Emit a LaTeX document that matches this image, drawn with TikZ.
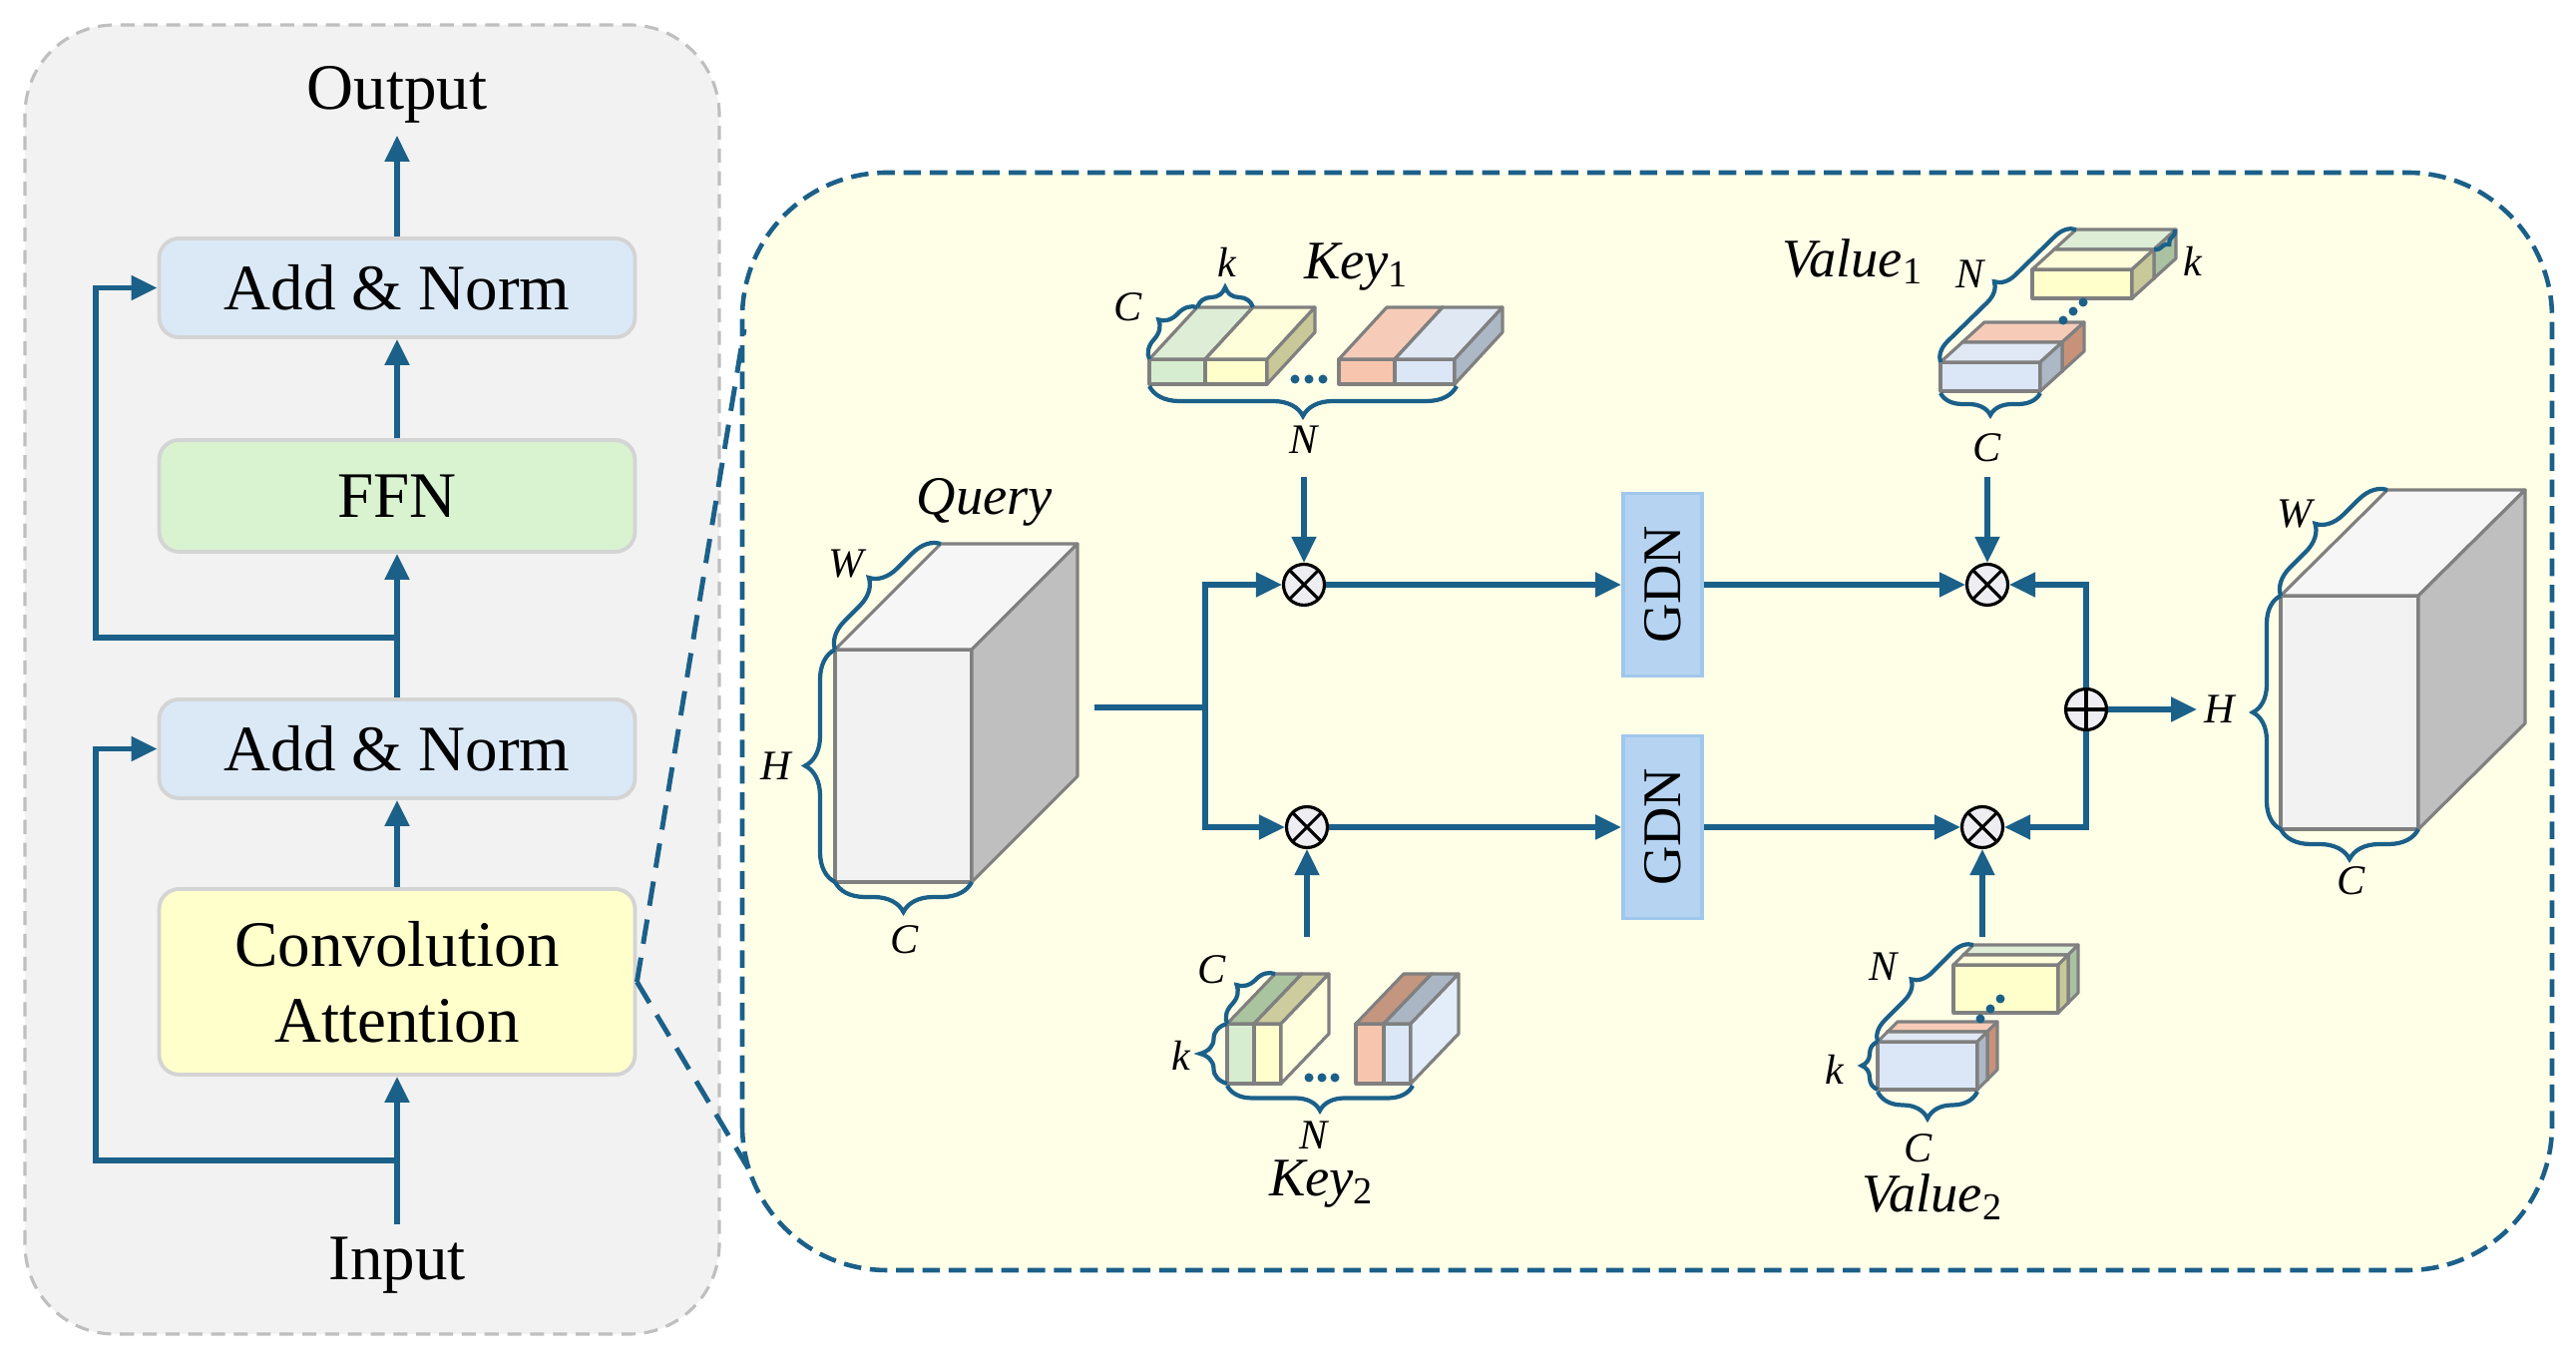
\documentclass[tikz,border=0pt]{standalone}
\usepackage{fontspec}
\setmainfont{Liberation Serif}
\usepackage{xcolor}
\usepackage{tikz}
\usetikzlibrary{arrows.meta,shapes,positioning,decorations.pathreplacing}

\definecolor{flowblue}{RGB}{27,96,137}
\definecolor{panelgray}{RGB}{242,242,242}
\definecolor{panelline}{RGB}{191,191,191}
\definecolor{boxline}{RGB}{212,212,212}
\definecolor{normblue}{RGB}{219,233,247}
\definecolor{ffngreen}{RGB}{217,242,208}
\definecolor{convyellow}{RGB}{255,255,204}
\definecolor{cream}{RGB}{255,255,232}
\definecolor{gdnfill}{RGB}{182,212,241}
\definecolor{gdnline}{RGB}{160,199,236}
\definecolor{edgegray}{RGB}{128,128,128}
\definecolor{opfill}{RGB}{238,238,242}
\definecolor{cubefront}{RGB}{242,242,242}
\definecolor{cubetop}{RGB}{246,246,246}
\definecolor{cubeside}{RGB}{191,191,191}
\definecolor{slgreen}{RGB}{215,237,207}
\definecolor{slgreentop}{RGB}{221,237,214}
\definecolor{slyellowtop}{RGB}{254,254,218}
\definecolor{slyellowside}{RGB}{200,200,152}
\definecolor{slorange}{RGB}{247,197,173}
\definecolor{slorangetop}{RGB}{246,204,184}
\definecolor{slorangeside}{RGB}{200,146,122}
\definecolor{slblue}{RGB}{219,231,246}
\definecolor{slbluetop}{RGB}{224,232,244}
\definecolor{slblueside}{RGB}{172,184,198}
\definecolor{slgreenside}{RGB}{170,194,162}
\definecolor{darkgreentop}{RGB}{170,196,160}
\definecolor{darkyellowtop}{RGB}{204,204,158}
\definecolor{darkorangetop}{RGB}{196,150,128}
\definecolor{darkbluetop}{RGB}{170,182,196}
\definecolor{lightyellowside}{RGB}{255,255,222}
\definecolor{lightblueside}{RGB}{227,236,249}

% front face at (#1,#2), size #3 x #4, depth (#5,#6), colours front/top/side
\newcommand{\tensorbox}[9]{%
  \filldraw[fill=#7, cubeedge] (#1,#2) rectangle ++(#3,#4);
  \filldraw[fill=#8, cubeedge] (#1,#2+#4) -- ++(#5,#6) -- ++(#3,0) -- ++(-#5,-#6) -- cycle;
  \filldraw[fill=#9, cubeedge] (#1+#3,#2) -- ++(#5,#6) -- ++(0,#4) -- ++(-#5,-#6) -- cycle;}

\begin{document}
\begin{tikzpicture}[node distance=2cm,
  flow/.style={draw=flowblue, line width=1.45pt, -{Triangle[length=0.26cm,width=0.24cm]}},
  plainline/.style={draw=flowblue, line width=1.45pt},
  zoomline/.style={draw=flowblue, line width=1.4pt, dash pattern=on 7pt off 4pt},
  normbox/.style={draw=boxline, line width=1.1pt, rounded corners=0.2cm, fill=normblue, minimum width=4.77cm, minimum height=0.99cm, font=\fontsize{18.5}{21.5}\selectfont},
  ffnbox/.style={normbox, fill=ffngreen, minimum height=1.12cm},
  convbox/.style={normbox, fill=convyellow, minimum height=1.86cm, align=center},
  titletext/.style={font=\fontsize{18.5}{21.5}\selectfont},
  gdn/.style={draw=gdnline, fill=gdnfill, line width=1.1pt, rotate=90, minimum width=1.83cm, minimum height=0.79cm, font=\fontsize{15.5}{18}\selectfont},
  opnode/.style={circle, draw=black, fill=opfill, line width=0.9pt, minimum size=0.41cm, inner sep=0pt},
  otimes/.style={opnode, path picture={\draw[line width=0.9pt] (path picture bounding box.north west) -- (path picture bounding box.south east) (path picture bounding box.north east) -- (path picture bounding box.south west);}},
  oplus/.style={opnode, path picture={\draw[line width=0.9pt] (path picture bounding box.north) -- (path picture bounding box.south) (path picture bounding box.east) -- (path picture bounding box.west);}},
  cubeedge/.style={draw=edgegray, line width=0.9pt, line join=round},
  dimbrace/.style={decorate, decoration={brace, amplitude=#1}, draw=flowblue, line width=1.2pt},
  dimbrace/.default=0.25cm,
  dimlab/.style={font=\fontsize{12}{14}\selectfont\itshape, inner sep=2pt},
  namelab/.style={font=\fontsize{15.5}{18}\selectfont\itshape, inner sep=2pt}]
\useasboundingbox (0,0) rectangle (25.82,13.71);

% panels
\draw[panelline, fill=panelgray, line width=0.9pt, dash pattern=on 4pt off 2.5pt, rounded corners=0.9cm] (0.25,0.34) rectangle (7.21,13.46);
\draw[flowblue, fill=cream, line width=1.3pt, dash pattern=on 5pt off 2.5pt, rounded corners=1.45cm] (7.44,0.98) rectangle (25.58,11.98);

% encoder block
\node[normbox] (an1) at (3.98,10.825) {Add \& Norm};
\node[titletext, above of=an1, node distance=1.935cm] (output) {Output};
\node[ffnbox, below of=an1, node distance=2.085cm] (ffn) {FFN};
\node[normbox, below of=ffn, node distance=2.535cm] (an2) {Add \& Norm};
\node[convbox, below of=an2, node distance=2.335cm] (conv) {Convolution\\Attention};
\node[titletext, below of=conv, node distance=2.84cm] (input) {Input};
\coordinate (b1) at (3.98,2.08);
\coordinate (b2) at (3.98,7.32);

\draw[flow] (input) -- (conv);
\draw[flow] (b1) -- ++(-3.02,0) |- (an2);
\draw[flow] (conv) -- (an2);
\draw[flow] (an2) -- (ffn);
\draw[flow] (b2) -- ++(-3.02,0) |- (an1);
\draw[flow] (ffn) -- (an1);
\draw[flow] (an1) -- (output);

\coordinate (zt) at (7.46,10.41);
\coordinate (zb) at (7.56,1.90);
\draw[zoomline] (conv.east) -- (zt);
\draw[zoomline] (conv.east) -- (zb);

% query and output cubes
\tensorbox{8.37}{4.87}{1.37}{2.33}{1.06}{1.06}{cubefront}{cubetop}{cubeside}
\draw[dimbrace=0.3cm] (8.37,4.87) -- (8.37,7.20);
\draw[dimbrace=0.3cm] (9.74,4.87) -- (8.37,4.87);
\draw[dimbrace=0.27cm] (8.37,7.20) -- (9.43,8.26);
\node[namelab] (qname) at (9.87,8.68) {Query};
\node[dimlab] (qw) at (8.48,8.06) {W};
\node[dimlab] (qh) at (7.78,6.03) {H};
\node[dimlab] (qc) at (9.07,4.29) {C};

\tensorbox{22.86}{5.40}{1.38}{2.34}{1.07}{1.06}{cubefront}{cubetop}{cubeside}
\draw[dimbrace=0.28cm] (22.86,5.40) -- (22.86,7.74);
\draw[dimbrace=0.3cm] (24.24,5.40) -- (22.86,5.40);
\draw[dimbrace=0.27cm] (22.86,7.74) -- (23.93,8.80);
\node[dimlab] (oh) at (22.25,6.60) {H};
\node[dimlab] (ow) at (23.00,8.56) {W};
\node[dimlab] (oc) at (23.57,4.88) {C};

% key 1
\tensorbox{11.52}{9.86}{0.56}{0.25}{0.48}{0.52}{slgreen}{slgreentop}{slyellowside}
\tensorbox{12.08}{9.86}{0.62}{0.25}{0.48}{0.52}{convyellow}{slyellowtop}{slyellowside}
\tensorbox{13.42}{9.86}{0.56}{0.25}{0.48}{0.52}{slorange}{slorangetop}{slblueside}
\tensorbox{13.98}{9.86}{0.60}{0.25}{0.48}{0.52}{slblue}{slbluetop}{slblueside}
\fill[flowblue] (12.98,9.91) circle (0.045) (13.12,9.91) circle (0.045) (13.26,9.91) circle (0.045);
\draw[dimbrace=0.3cm] (14.60,9.84) -- (11.52,9.84);
\draw[dimbrace=0.2cm] (12.00,10.63) -- (12.56,10.63);
\draw[dimbrace=0.2cm] (11.52,10.11) -- (12.00,10.63);
\node[namelab] (k1name) at (13.60,11.03) {Key\textsubscript{\upshape 1}};
\node[dimlab] (k1k) at (12.30,11.08) {k};
\node[dimlab] (k1c) at (11.31,10.63) {C};
\node[dimlab] (k1n) at (13.07,9.30) {N};

% key 2
\tensorbox{12.30}{2.85}{0.27}{0.60}{0.48}{0.50}{slgreen}{darkgreentop}{lightyellowside}
\tensorbox{12.57}{2.85}{0.27}{0.60}{0.48}{0.50}{convyellow}{darkyellowtop}{lightyellowside}
\tensorbox{13.59}{2.85}{0.28}{0.60}{0.48}{0.50}{slorange}{darkorangetop}{lightblueside}
\tensorbox{13.87}{2.85}{0.27}{0.60}{0.48}{0.50}{slblue}{darkbluetop}{lightblueside}
\fill[flowblue] (13.12,2.91) circle (0.045) (13.25,2.91) circle (0.045) (13.38,2.91) circle (0.045);
\draw[dimbrace=0.25cm] (14.16,2.83) -- (12.30,2.83);
\draw[dimbrace=0.27cm] (12.30,2.85) -- (12.30,3.45);
\draw[dimbrace=0.2cm] (12.30,3.45) -- (12.78,3.95);
\node[dimlab] (k2c) at (12.15,3.99) {C};
\node[dimlab] (k2k) at (11.84,3.13) {k};
\node[dimlab] (k2n) at (13.17,2.33) {N};
\node[namelab] (k2name) at (13.25,1.84) {Key\textsubscript{\upshape 2}};

% value 1
\tensorbox{19.67}{9.99}{1.00}{0.29}{0.22}{0.20}{slorange}{slorangetop}{slorangeside}
\tensorbox{19.45}{9.79}{1.00}{0.29}{0.22}{0.20}{slblue}{slbluetop}{slblueside}
\tensorbox{20.59}{10.92}{1.00}{0.29}{0.22}{0.20}{slgreen}{slgreentop}{slgreenside}
\tensorbox{20.37}{10.72}{1.00}{0.29}{0.22}{0.20}{convyellow}{slyellowtop}{slyellowside}
\fill[flowblue] (20.68,10.50) circle (0.045) (20.78,10.59) circle (0.045) (20.88,10.68) circle (0.045);
\draw[dimbrace=0.2cm] (19.45,10.08) -- (20.81,11.41);
\draw[dimbrace=0.22cm] (20.45,9.77) -- (19.45,9.77);
\draw[dimbrace=0.07cm] (21.80,11.41) -- (21.59,11.21);
\node[namelab] (v1name) at (18.57,11.09) {Value\textsubscript{\upshape 1}};
\node[dimlab] (v1n) at (19.75,10.96) {N};
\node[dimlab] (v1k) at (21.98,11.09) {k};
\node[dimlab] (v1c) at (19.92,9.22) {C};

% value 2
\tensorbox{18.92}{2.89}{1.00}{0.48}{0.10}{0.10}{slorange}{slorangetop}{slorangeside}
\tensorbox{18.82}{2.79}{1.00}{0.48}{0.10}{0.10}{slblue}{slbluetop}{slblueside}
\tensorbox{19.68}{3.66}{1.05}{0.48}{0.10}{0.10}{slgreen}{slgreentop}{slgreenside}
\tensorbox{19.58}{3.56}{1.05}{0.48}{0.10}{0.10}{convyellow}{slyellowtop}{slyellowside}
\fill[flowblue] (19.85,3.50) circle (0.045) (19.95,3.60) circle (0.045) (20.05,3.70) circle (0.045);
\draw[dimbrace=0.2cm] (18.82,3.27) -- (19.78,4.24);
\draw[dimbrace=0.16cm] (18.82,2.79) -- (18.82,3.27);
\draw[dimbrace=0.27cm] (19.82,2.77) -- (18.82,2.77);
\node[dimlab] (v2n) at (18.88,4.02) {N};
\node[dimlab] (v2k) at (18.39,2.99) {k};
\node[dimlab] (v2c) at (19.23,2.20) {C};
\node[namelab] (v2name) at (19.37,1.71) {Value\textsubscript{\upshape 2}};

% attention flow
\node[otimes] (m1) at (13.07,7.85) {};
\node[otimes] (m2) at (13.10,5.42) {};
\node[gdn] (g1) at (16.665,7.85) {GDN};
\node[gdn] (g2) at (16.665,5.42) {GDN};
\node[otimes] (m3) at (19.92,7.85) {};
\node[otimes] (m4) at (19.87,5.42) {};
\node[oplus] (plus) at (20.91,6.60) {};
\coordinate (qout) at (10.97,6.62);
\coordinate (split) at (12.08,6.62);
\coordinate (k1src) at (13.07,8.93);
\coordinate (k2src) at (13.10,4.32);
\coordinate (v1src) at (19.92,8.93);
\coordinate (v2src) at (19.87,4.32);

\draw[plainline] (qout) -- (split);
\draw[flow] (split) |- (m1);
\draw[flow] (split) |- (m2);
\draw[flow] (k1src) -- (m1);
\draw[flow] (k2src) -- (m2);
\draw[flow] (m1) -- (g1);
\draw[flow] (m2) -- (g2);
\draw[flow] (g1) -- (m3);
\draw[flow] (g2) -- (m4);
\draw[flow] (v1src) -- (m3);
\draw[flow] (v2src) -- (m4);
\draw[flow] (plus) |- (m3);
\draw[flow] (plus) |- (m4);
\draw[flow] (plus) -- (oh);
\end{tikzpicture}
\end{document}
